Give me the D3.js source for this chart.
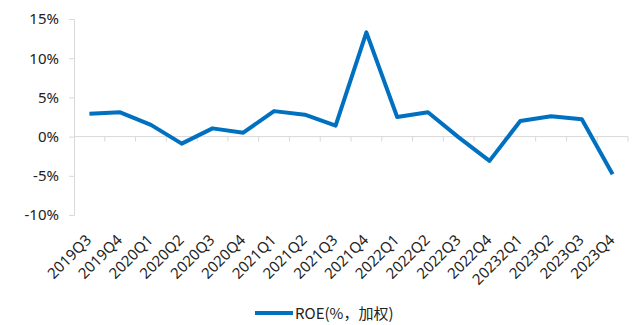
<!DOCTYPE html>
<html><head><meta charset="utf-8">
<script src="https://cdn.jsdelivr.net/npm/d3@7"></script>
<style>body{margin:0;background:#fff;}svg{display:block;font-family:"Noto Sans CJK SC","Noto Sans",sans-serif;}</style>
</head><body><svg id="c" width="634" height="325"></svg>
<script>
const categories = ["2019Q3","2019Q4","2020Q1","2020Q2","2020Q3","2020Q4","2021Q1","2021Q2","2021Q3","2021Q4","2022Q1","2022Q2","2022Q3","2022Q4","20232Q1","2023Q2","2023Q3","2023Q4"];
const roe = [2.9,3.1,1.5,-0.9,1.05,0.5,3.25,2.8,1.4,13.3,2.5,3.1,-0.1,-3.1,2.0,2.6,2.2,-4.8];
const yTicks = [-10,-5,0,5,10,15];
const seriesName = "ROE(%，加权)";

const svg = d3.select("#c");
const x0 = 74, x1 = 628, yTop = 19, yBot = 215;
const x = d3.scaleBand().domain(categories).range([x0, x1]);
const y = d3.scaleLinear().domain([-10, 15]).range([yBot, yTop]);
const grey = "#d9d9d9";

// y axis
const ya = svg.append("g").attr("transform", `translate(${x0},0)`)
  .call(d3.axisLeft(y).tickValues(yTicks).tickSize(5).tickPadding(10).tickFormat(d => d + "%"));
ya.select(".domain").attr("stroke", grey);
ya.selectAll(".tick line").attr("stroke", grey);
ya.selectAll("text").attr("font-size", 15).attr("fill", "#222").attr("font-family", "Noto Sans");

// x axis at 0 line
const xa = svg.append("g").attr("transform", `translate(0,${y(0)})`)
  .call(d3.axisBottom(x).tickSize(0).tickFormat(""));
xa.select(".domain").attr("stroke", grey).attr("d", `M${x0},0H${x1}`);
// category boundary ticks
svg.append("g").selectAll("line").data(categories)
  .join("line")
  .attr("x1", d => x(d) + x.step()).attr("x2", d => x(d) + x.step())
  .attr("y1", y(0)).attr("y2", y(0) + 5).attr("stroke", grey);

// x labels rotated
svg.append("g").selectAll("text").data(categories).join("text")
  .attr("transform", d => `translate(${x(d) + x.bandwidth() / 2 + 3},${yBot + 26}) rotate(-45)`)
  .attr("text-anchor", "end").attr("font-size", 15).attr("fill", "#222").attr("font-family", "Noto Sans")
  .text(d => d);

// line
const line = d3.line().x((d, i) => x(categories[i]) + x.bandwidth() / 2).y(d => y(d));
svg.append("path").datum(roe).attr("d", line).attr("fill", "none")
  .attr("stroke", "#0070c0").attr("stroke-width", 4).attr("stroke-linejoin", "round");

// legend
const lg = svg.append("g").attr("transform", "translate(255,313)");
lg.append("line").attr("x1", 0).attr("x2", 38).attr("y1", 0).attr("y2", 0).attr("stroke", "#0070c0").attr("stroke-width", 4);
lg.append("text").attr("x", 40).attr("y", 5.5).attr("font-size", 15).attr("fill", "#222").text(seriesName);
</script></body></html>
